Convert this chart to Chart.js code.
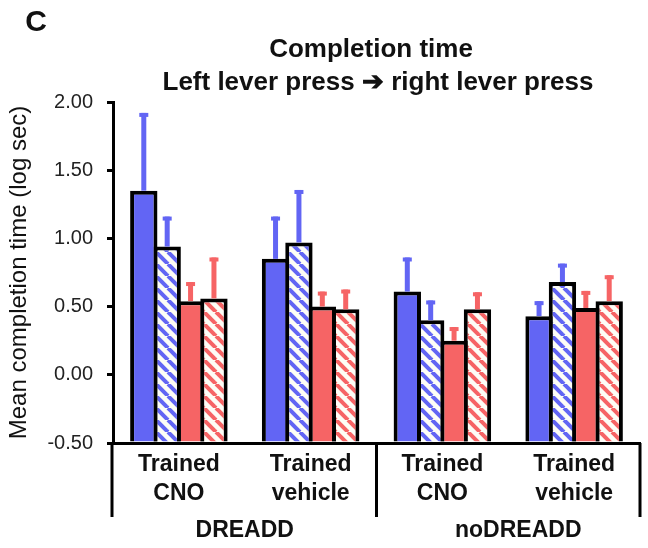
<!DOCTYPE html>
<html>
<head>
<meta charset="utf-8">
<script src="https://cdn.jsdelivr.net/npm/chart.js@4.4.1/dist/chart.umd.min.js"></script>
<style>
  body { margin: 0; background: #fff; }
  canvas { display: block; }
</style>
</head>
<body>
<canvas id="chart" width="648" height="548"></canvas>
<script>
// groups along the x axis
const groups = [['Trained', 'CNO'], ['Trained', 'vehicle'], ['Trained', 'CNO'], ['Trained', 'vehicle']];
const conditions = ['DREADD', 'noDREADD'];

// means (log sec)
const blueSolid   = [1.35, 0.85, 0.61, 0.43];
const blueHatched = [0.94, 0.97, 0.40, 0.68];
const redSolid    = [0.54, 0.50, 0.25, 0.49];
const redHatched  = [0.56, 0.48, 0.48, 0.54];

// upper error (SEM)
const blueSolidErr   = [0.57, 0.31, 0.25, 0.11];
const blueHatchedErr = [0.22, 0.385, 0.145, 0.135];
const redSolidErr    = [0.14, 0.11, 0.10, 0.125];
const redHatchedErr  = [0.30, 0.145, 0.125, 0.19];

const yTicks = [-0.5, 0, 0.5, 1, 1.5, 2];

const BLUE = '#6265f4';
const RED = '#f66465';
const FONT = "'Liberation Sans', Arial, Helvetica, sans-serif";

function hatch(color) {
    var s = 12;
    var c = document.createElement('canvas');
    c.width = s; c.height = s;
    var g = c.getContext('2d');
    g.fillStyle = '#fdfdf6';
    g.fillRect(0, 0, s, s);
    g.strokeStyle = color;
    g.lineWidth = 4;
    [-s, 0, s].forEach(k => {
        g.beginPath();
        g.moveTo(k, 0);
        g.lineTo(k + s, s);
        g.stroke();
    });
    return g.createPattern(c, 'repeat');
}

function bars(label, data, err, fill, color) {
    return {
        label: label,
        data: data,
        err: err,
        errColor: color,
        base: -0.5,
        backgroundColor: fill,
        borderColor: '#000',
        borderWidth: 4,
        borderSkipped: 'start',
        categoryPercentage: 0.71,
        barPercentage: 1.17
    };
}

// error bars, drawn from the bar top upwards
const errorBars = {
    id: 'errorBars',
    afterDatasetsDraw(chart) {
        const ctx = chart.ctx;
        const y = chart.scales.y;
        chart.data.datasets.forEach((ds, i) => {
            const meta = chart.getDatasetMeta(i);
            meta.data.forEach((el, j) => {
                const top = y.getPixelForValue(ds.data[j] + ds.err[j]);
                ctx.save();
                ctx.fillStyle = ds.errColor;
                ctx.fillRect(el.x - 2.5, top, 5, el.y - top);
                ctx.fillRect(el.x - 4.5, top, 9, 4);
                ctx.restore();
            });
        });
    }
};

// titles, y title, group brackets
const decorations = {
    id: 'decorations',
    afterDraw(chart) {
        const ctx = chart.ctx;
        const area = chart.chartArea;
        const x = chart.scales.x;
        ctx.save();
        ctx.fillStyle = '#111';
        ctx.textAlign = 'center';
        ctx.textBaseline = 'middle';

        ctx.font = 'bold 30px ' + FONT;
        ctx.fillText('C', 36, 23);

        ctx.font = 'bold 26px ' + FONT;
        ctx.fillText('Completion time', 371, 50);
        ctx.fillText('Left lever press \u2794 right lever press', 378, 83);

        ctx.save();
        ctx.translate(19, (area.top + area.bottom) / 2);
        ctx.rotate(-Math.PI / 2);
        ctx.font = '24px ' + FONT;
        ctx.fillText('Mean completion time (log sec)', 0, 0);
        ctx.restore();

        // brackets below the axis
        const mid = (x.getPixelForValue(1) + x.getPixelForValue(2)) / 2;
        const bottom = area.bottom + 74;
        ctx.strokeStyle = '#000';
        ctx.lineWidth = 3;
        [area.left - 1, mid, area.right].forEach(px => {
            ctx.beginPath();
            ctx.moveTo(px, area.bottom);
            ctx.lineTo(px, bottom);
            ctx.stroke();
        });

        ctx.font = 'bold 23px ' + FONT;
        ctx.fillText(conditions[0], (area.left + mid) / 2, area.bottom + 88);
        ctx.fillText(conditions[1], (mid + area.right) / 2 + 10, area.bottom + 88);
        ctx.restore();
    }
};

const ctx = document.getElementById('chart').getContext('2d');
const myChart = new Chart(ctx, {
    type: 'bar',
    data: {
        labels: groups,
        datasets: [
            bars('Blue', blueSolid, blueSolidErr, BLUE, BLUE),
            bars('Blue hatched', blueHatched, blueHatchedErr, hatch(BLUE), BLUE),
            bars('Red', redSolid, redSolidErr, RED, RED),
            bars('Red hatched', redHatched, redHatchedErr, hatch(RED), RED)
        ]
    },
    options: {
        responsive: false,
        animation: false,
        layout: { padding: { top: 102, right: 8, left: 0, bottom: 0 } },
        plugins: {
            legend: { display: false },
            tooltip: { enabled: false }
        },
        scales: {
            x: {
                afterFit: (scale) => { scale.height = 105; },
                border: { color: '#000', width: 3 },
                grid: { display: false, drawTicks: false },
                ticks: {
                    color: '#111',
                    padding: 7,
                    maxRotation: 0,
                    font: { family: FONT, size: 23, weight: 'bold', lineHeight: 1.27 }
                }
            },
            y: {
                min: -0.5,
                max: 2,
                afterFit: (scale) => { scale.width = 113; },
                afterBuildTicks: (scale) => { scale.ticks = yTicks.map(v => ({ value: v })); },
                border: { color: '#000', width: 3 },
                grid: { drawOnChartArea: false, color: '#000', lineWidth: 3, tickLength: 6 },
                ticks: {
                    color: '#222',
                    padding: 14,
                    font: { family: FONT, size: 20 },
                    callback: (v) => Number(v).toFixed(2)
                }
            }
        }
    },
    plugins: [errorBars, decorations]
});
</script>
</body>
</html>
